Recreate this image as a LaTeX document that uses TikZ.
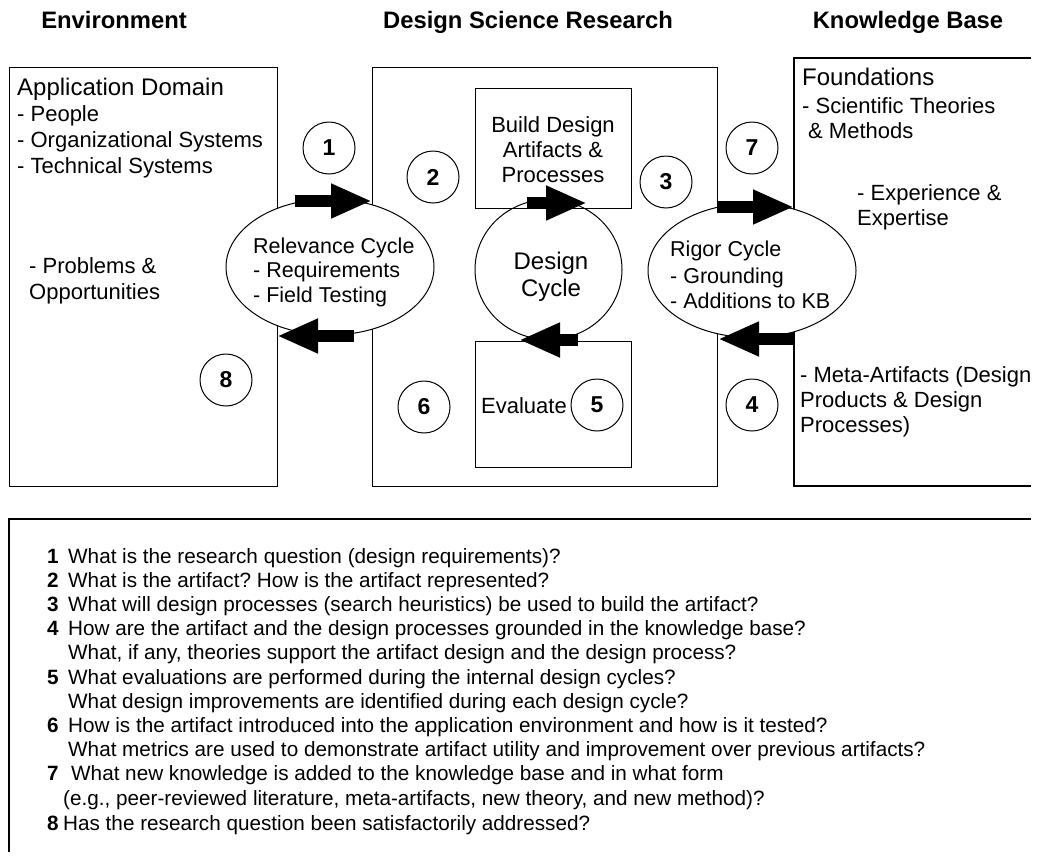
\documentclass[tikz,border=0pt]{standalone}
\usepackage{fontspec}
\setmainfont{Liberation Sans}
\usetikzlibrary{arrows.meta,shapes.geometric}
\frenchspacing
\tikzset{
  box/.style={draw, line width=1.3pt},
  ibox/.style={draw, line width=1.3pt, inner sep=0pt},
  cycle/.style={ellipse, draw, fill=white, line width=1pt, inner sep=0pt},
  ocycle/.style={ellipse, draw, line width=1pt, inner sep=0pt},
  numc/.style={circle, draw, fill=white, line width=1pt, minimum size=52pt, inner sep=0pt, font=\bfseries\fontsize{23}{23}\selectfont},
  hd/.style={anchor=base, inner sep=0pt, font=\bfseries\fontsize{23.8}{26}\selectfont},
  tbig/.style={anchor=base west, inner sep=0pt, font=\fontsize{24}{28}\selectfont},
  tx/.style={anchor=base west, inner sep=0pt, font=\fontsize{22}{26}\selectfont},
  txc/.style={anchor=base, inner sep=0pt, font=\fontsize{22}{26}\selectfont},
  tdc/.style={anchor=base, inner sep=0pt, font=\fontsize{24}{28}\selectfont},
  tcy/.style={anchor=base west, inner sep=0pt, font=\fontsize{21.5}{25}\selectfont},
  lnum/.style={anchor=base west, inner sep=0pt, font=\bfseries\fontsize{20.7}{24}\selectfont},
  ltx/.style={anchor=base west, inner sep=0pt, font=\fontsize{20.7}{24}\selectfont},
  bigarrow/.style={line width=11.5pt, -{Triangle[length=41pt,width=32pt]}}
}
\begin{document}
\begin{tikzpicture}[x=1pt,y=-1pt]
\fill[white] (0,0) rectangle (1038,857);
\useasboundingbox (0,0) rectangle (1038,857);

% headings
\node[hd] (hEnv) at (114,28) {Environment};
\node[hd] (hDsr) at (528,28) {Design Science Research};
\node[hd] (hKb) at (908,28) {Knowledge Base};

% main boxes
\node[box, anchor=north west, minimum width=268pt, minimum height=419pt, inner sep=0pt] (env) at (9,67) {};
\node[box, anchor=north west, minimum width=345pt, minimum height=419pt, inner sep=0pt] (dsr) at (372,67) {};
\coordinate (kbTR) at (1031,58);
\coordinate (kbTL) at (794,58);
\coordinate (kbBL) at (794,486);
\coordinate (kbBR) at (1031,486);
\draw[box] (kbTR) -- (kbTL) -- (kbBL) -- (kbBR);

% list box
\coordinate (lbTR) at (1031,519);
\coordinate (lbTL) at (9,519);
\coordinate (lbBL) at (9,852);
\draw[box] (lbTR) -- (lbTL) -- (lbBL);

% relevance and rigor cycles (opaque)
\node[cycle, minimum width=208pt, minimum height=136pt] (rel) at (330,267) {};
\node[cycle, minimum width=208pt, minimum height=134pt] (rig) at (752,270.5) {};

% inner boxes
\node[ibox, anchor=north west, minimum width=156pt, minimum height=120pt] (build) at (475,88) {};
\node[ibox, anchor=north west, minimum width=156pt, minimum height=126pt] (eval) at (475,341) {};

% design cycle (outline only)
\node[ocycle, minimum width=147pt, minimum height=140pt] (des) at (548.5,269.5) {};

% numbered circles
\node[numc] (n1) at (329,148) {1};
\node[numc] (n2) at (433,177) {2};
\node[numc] (n3) at (666,182) {3};
\node[numc] (n7) at (752,148) {7};
\node[numc] (n8) at (226,380) {8};
\node[numc] (n6) at (424,407) {6};
\node[numc] (n5) at (597,405) {5};
\node[numc] (n4) at (752,405) {4};

% environment texts
\node[tbig] (ad) at (17,95) {Application Domain};
\node[tx] (ad1) at (17,121) {- People};
\node[tx] (ad2) at (17,147) {- Organizational Systems};
\node[tx] (ad3) at (17,173) {- Technical Systems};
\node[tx] (ad4) at (29,273) {- Problems \&};
\node[tx] (ad5) at (29,299) {Opportunities};

% relevance cycle texts
\node[tcy] (r1) at (253,253) {Relevance Cycle};
\node[tcy] (r2) at (253,277) {- Requirements};
\node[tcy] (r3) at (253,302) {- Field Testing};

% build / design / evaluate
\node[txc] (b1) at (553,132) {Build Design};
\node[txc] (b2) at (553,157) {Artifacts \&};
\node[txc] (b3) at (553,182) {Processes};
\node[tdc] (d1) at (551,269) {Design};
\node[tdc] (d2) at (551,296) {Cycle};
\node[tx] (ev) at (481,413) {Evaluate};

% rigor cycle texts
\node[tcy] (g1) at (670,256) {Rigor Cycle};
\node[tcy] (g2) at (670,283) {- Grounding};
\node[tcy] (g3) at (670,308) {- Additions to KB};

% knowledge base texts
\node[tbig] (kb0) at (802,85) {Foundations};
\node[tx] (kb1) at (802,113) {- Scientific Theories};
\node[tx] (kb2) at (808,138) {\& Methods};
\node[tx] (kb3) at (857,200) {- Experience \&};
\node[tx] (kb4) at (857,225) {Expertise};
\node[tx] (kb5) at (800,382) {- Meta-Artifacts (Design};
\node[tx] (kb6) at (800,407) {Products \& Design};
\node[tx] (kb7) at (800,432) {Processes)};

% block arrows
\coordinate (a1s) at (295,201);  \coordinate (a1e) at (372,201);
\coordinate (a8s) at (354,336);  \coordinate (a8e) at (277,336);
\coordinate (a3s) at (527,203);  \coordinate (a3e) at (587,203);
\coordinate (a5s) at (578,340);  \coordinate (a5e) at (519,340);
\coordinate (a7s) at (717,207);  \coordinate (a7e) at (794,207);
\coordinate (a4s) at (794,339);  \coordinate (a4e) at (718,339);
\draw[bigarrow] (a1s) -- (a1e);
\draw[bigarrow] (a8s) -- (a8e);
\draw[bigarrow] (a3s) -- (a3e);
\draw[bigarrow] (a5s) -- (a5e);
\draw[bigarrow] (a7s) -- (a7e);
\draw[bigarrow] (a4s) -- (a4e);

% question list
\node[lnum] (q1n) at (47,563) {1};
\node[ltx] (q1) at (68,563) {What is the research question (design requirements)?};
\node[lnum] (q2n) at (47,587) {2};
\node[ltx] (q2) at (68,587) {What is the artifact? How is the artifact represented?};
\node[lnum] (q3n) at (47,611) {3};
\node[ltx] (q3) at (68,611) {What will design processes (search heuristics) be used to build the artifact?};
\node[lnum] (q4n) at (47,635) {4};
\node[ltx] (q4) at (68,635) {How are the artifact and the design processes grounded in the knowledge base?};
\node[ltx] (q4b) at (68,659) {What, if any, theories support the artifact design and the design process?};
\node[lnum] (q5n) at (47,684) {5};
\node[ltx] (q5) at (68,684) {What evaluations are performed during the internal design cycles?};
\node[ltx] (q5b) at (68,708) {What design improvements are identified during each design cycle?};
\node[lnum] (q6n) at (47,732) {6};
\node[ltx] (q6) at (68,732) {How is the artifact introduced into the application environment and how is it tested?};
\node[ltx] (q6b) at (68,756) {What metrics are used to demonstrate artifact utility and improvement over previous artifacts?};
\node[lnum] (q7n) at (47,780) {7};
\node[ltx] (q7) at (71,780) {What new knowledge is added to the knowledge base and in what form};
\node[ltx] (q7b) at (63,805) {(e.g., peer-reviewed literature, meta-artifacts, new theory, and new method)?};
\node[lnum] (q8n) at (47,830) {8};
\node[ltx] (q8) at (63,830) {Has the research question been satisfactorily addressed?};
\end{tikzpicture}
\end{document}
